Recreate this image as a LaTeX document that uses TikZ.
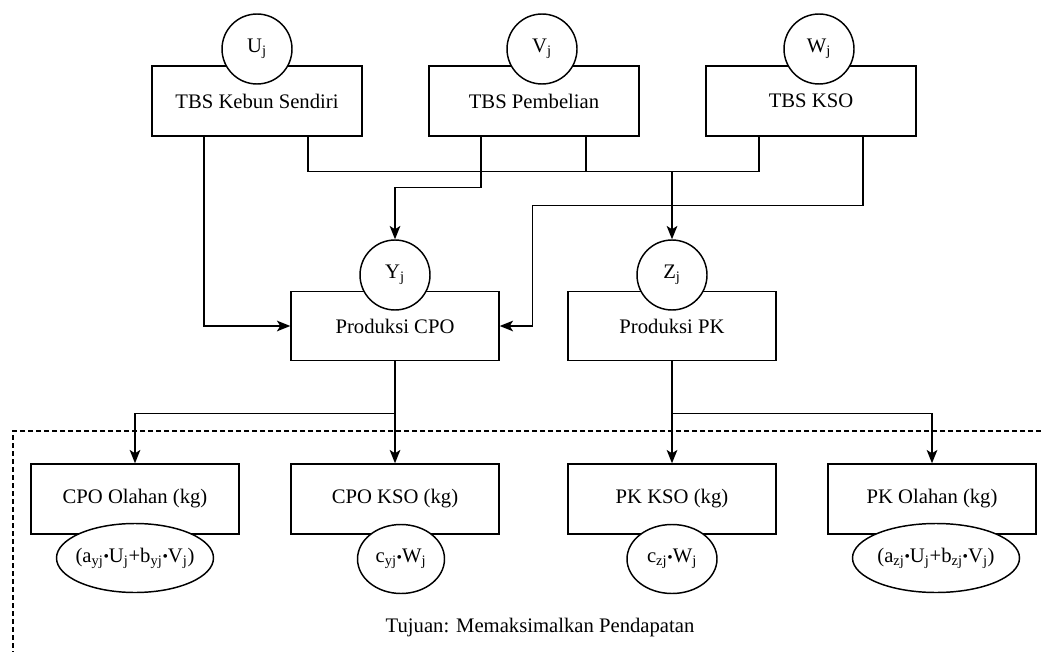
\documentclass[tikz,border=0pt]{standalone}
\usepackage{fontspec}
\setmainfont{Liberation Serif}
\usepackage{graphicx}
\usetikzlibrary{calc,arrows.meta,shapes.geometric}

% 掛け算の点
\newcommand{\kali}{\raisebox{0.05ex}{\scalebox{0.75}{\textbullet}}}

\tikzset{
    kotak/.style={draw, line width=1.1pt, minimum width=157.5pt, minimum height=52.5pt},
    bulat/.style={draw, circle, fill=white, line width=1.1pt, minimum size=52.5pt, inner sep=0pt},
    oval/.style={draw, ellipse, fill=white, line width=1.1pt, minimum height=51.75pt, inner sep=0pt},
    garis/.style={line width=1.1pt},
    panah/.style={line width=1.1pt, -{Stealth[length=10pt,width=8pt,inset=2.5pt]}},
}

\begin{document}
\begin{tikzpicture}[x=0.75pt, y=-0.75pt, font=\rmfamily\fontsize{15.5}{18}\selectfont]

    % 描画範囲
    \useasboundingbox (0,0) rectangle (1041,652);

    % パラメータの定義
    \pgfmathsetmacro{\dx}{52}

    % 上段の箱（TBS）
    \foreach \nm/\x/\txt in {kebun/257/TBS Kebun Sendiri, beli/534/TBS Pembelian, kso/811/TBS KSO} {
        \node[kotak] (\nm) at (\x,101) {\txt};
    }
    \node[bulat] (u) at (257,49) {U\textsubscript{j}};
    \node[bulat] (v) at (542,49) {V\textsubscript{j}};
    \node[bulat] (w) at (819,49) {W\textsubscript{j}};

    % 中段の箱（生産）
    \node[kotak, minimum width=156pt, minimum height=51.75pt] (cpo) at (395,326) {Produksi CPO};
    \node[kotak, minimum width=156pt, minimum height=51.75pt] (pk) at (672,326) {Produksi PK};
    \node[bulat] (y) at (395,275) {Y\textsubscript{j}};
    \node[bulat] (z) at (672,275) {Z\textsubscript{j}};

    % 上段から中段への接続
    \draw[garis] ($(kebun.south)+(\dx-1,0)$) |- ($(kso.south)+(-\dx,35)$) -- ($(kso.south)+(-\dx,0)$);
    \draw[garis] ($(beli.south)+(\dx,0)$) -- ++(0,35);
    \coordinate (hub) at ($(kebun.south -| z.north)+(0,35)$);
    \draw[panah] (hub) -- (z.north);
    \draw[panah] ($(beli.south)+(-\dx-1,0)$) -- ++(0,51) -| (y.north);
    \draw[panah] ($(kebun.south)+(-\dx-1,0)$) |- (cpo.west);
    \draw[panah] ($(kso.south)+(\dx,0)$) -- ++(0,69) -| ($(cpo.east)+(33,0)$) -- (cpo.east);

    % 下段の箱（出力）
    \foreach \nm/\x/\txt in {cpoOl/135/CPO Olahan (kg), cpoKso/395/CPO KSO (kg), pkKso/672/PK KSO (kg), pkOl/932/PK Olahan (kg)} {
        \node[kotak, minimum width=156pt] (\nm) at (\x,499) {\txt};
    }
    \node[oval, minimum width=117.75pt, label=center:{(a\textsubscript{yj}\kali U\textsubscript{j}+b\textsubscript{yj}\kali V\textsubscript{j})}] (fa) at (135,558) {};
    \node[oval, minimum width=65.25pt, label=center:{c\textsubscript{yj}\kali W\textsubscript{j}}] (fb) at (401,559) {};
    \node[oval, minimum width=67.5pt, label=center:{c\textsubscript{zj}\kali W\textsubscript{j}}] (fc) at (672,559) {};
    \node[oval, minimum width=125.25pt, label=center:{(a\textsubscript{zj}\kali U\textsubscript{j}+b\textsubscript{zj}\kali V\textsubscript{j})}] (fd) at (936,558) {};

    % 中段から下段への接続
    \draw[garis] (cpo.south) -- ++(0,52) coordinate (pisahCpo);
    \draw[panah] (pisahCpo) -| (cpoOl.north);
    \draw[panah] (pisahCpo) -- (cpoKso.north);
    \draw[garis] (pk.south) -- ++(0,52) coordinate (pisahPk);
    \draw[panah] (pisahPk) -- (pkKso.north);
    \draw[panah] (pisahPk) -| (pkOl.north);

    % 目的の枠（破線）
    \draw[line width=0.8pt, dash pattern=on 3.5pt off 2.5pt] (1041,431) -| (13,652);
    \node (tujuan) at (540,628) {Tujuan: Memaksimalkan Pendapatan};
    %
\end{tikzpicture}
\end{document}
